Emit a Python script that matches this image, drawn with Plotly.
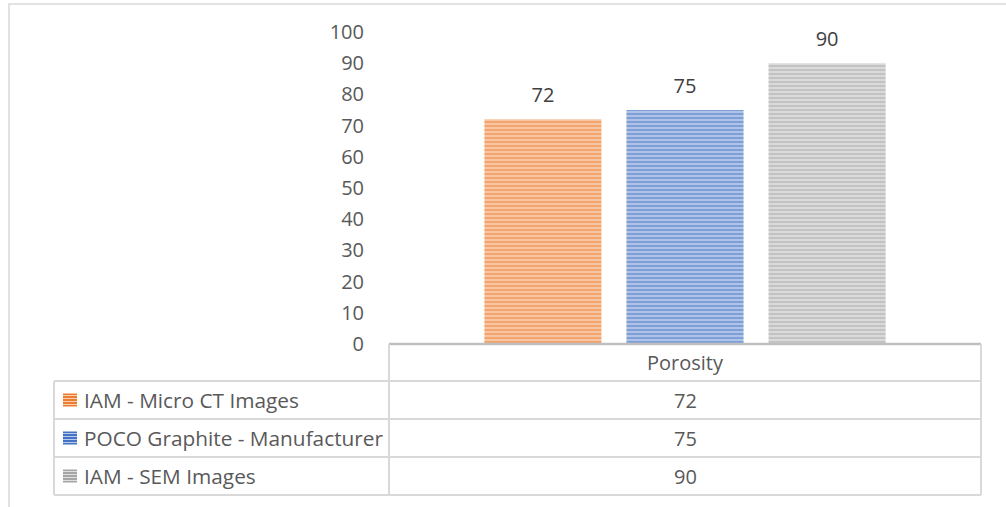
import plotly.graph_objects as go

# Porosity (%) from three sources
category = "Porosity"
series_names = ["IAM - Micro CT Images", "POCO Graphite - Manufacturer", "IAM - SEM Images"]
series_values = [72, 75, 90]
series_colors = ["#ED7D31", "#4472C4", "#A5A5A5"]
series_tints = ["#F8CDAE", "#BACCEB", "#E0E0E0"]
y_ticks = [0, 10, 20, 30, 40, 50, 60, 70, 80, 90, 100]

FONT = "Open Sans"
FS = 20
TEXT = "#595959"
GRID = "#D9D9D9"

W, H = 1006, 507
L, R, T, B = 389, 25, 32, 163
PW, PH = W - L - R, H - T - B


def px(x):
    return (x - L) / PW


def py(y):
    return (H - B - y) / PH


fig = go.Figure()
for name, val, col, tint in zip(series_names, series_values, series_colors, series_tints):
    fig.add_trace(go.Bar(
        x=[category], y=[val], name=name,
        marker=dict(color=col, line=dict(width=0),
                    pattern=dict(shape="-", size=4, solidity=0.6, fgcolor=col, bgcolor=tint)),
        showlegend=False, hoverinfo="skip",
    ))
    # value label above each bar
    fig.add_trace(go.Scatter(
        x=[category], y=[val], mode="markers+text", text=[str(val)],
        textposition="top center", textfont=dict(family=FONT, size=FS, color="#404040"),
        marker=dict(size=18, opacity=0), showlegend=False, hoverinfo="skip", cliponaxis=False,
    ))

shapes = []
annotations = []

# outer chart frame
shapes.append(dict(type="rect", xref="paper", yref="paper", x0=px(9), x1=px(1012), y0=py(512), y1=py(4),
                   line=dict(color=GRID, width=1.5), fillcolor="rgba(0,0,0,0)", layer="below"))

# data table grid
row_lines = [381, 419, 457, 495]
col_left, col_mid, col_right = 54, 389, 981
shapes.append(dict(type="line", xref="paper", yref="paper", x0=px(col_mid), x1=px(col_right),
                   y0=py(344), y1=py(344), line=dict(color="#BFBFBF", width=2.5)))
for yy in row_lines:
    shapes.append(dict(type="line", xref="paper", yref="paper", x0=px(col_left), x1=px(col_right),
                       y0=py(yy), y1=py(yy), line=dict(color=GRID, width=2)))
shapes.append(dict(type="line", xref="paper", yref="paper", x0=px(col_left), x1=px(col_left),
                   y0=py(row_lines[0]), y1=py(row_lines[-1]), line=dict(color=GRID, width=2)))
for xx in (col_mid, col_right):
    shapes.append(dict(type="line", xref="paper", yref="paper", x0=px(xx), x1=px(xx),
                       y0=py(344), y1=py(row_lines[-1]), line=dict(color=GRID, width=2)))

# header cell
annotations.append(dict(xref="paper", yref="paper", x=px((col_mid + col_right) / 2), y=py(362),
                        text=category, showarrow=False, font=dict(family=FONT, size=FS, color=TEXT),
                        xanchor="center", yanchor="middle"))

for i, (name, val, col, tint) in enumerate(zip(series_names, series_values, series_colors, series_tints)):
    top, bot = row_lines[i], row_lines[i + 1]
    mid = (top + bot) / 2
    # legend key with striped fill
    kx0, kx1, ky0, ky1 = 63, 77, mid - 6.5, mid + 6.5
    shapes.append(dict(type="rect", xref="paper", yref="paper", x0=px(kx0), x1=px(kx1),
                       y0=py(ky1), y1=py(ky0), fillcolor=col, line=dict(width=0)))
    k = ky0 + 2
    while k < ky1 - 1:
        shapes.append(dict(type="line", xref="paper", yref="paper", x0=px(kx0), x1=px(kx1),
                           y0=py(k), y1=py(k), line=dict(color=tint, width=1)))
        k += 3
    annotations.append(dict(xref="paper", yref="paper", x=px(82), y=py(mid), text=name,
                            showarrow=False, font=dict(family=FONT, size=FS + 0.8, color=TEXT),
                            xanchor="left", yanchor="middle"))
    annotations.append(dict(xref="paper", yref="paper", x=px((col_mid + col_right) / 2), y=py(mid),
                            text=str(val), showarrow=False, font=dict(family=FONT, size=FS, color=TEXT),
                            xanchor="center", yanchor="middle"))

fig.update_layout(
    width=W, height=H,
    margin=dict(l=L, r=R, t=T, b=B, pad=0),
    paper_bgcolor="white", plot_bgcolor="white",
    barmode="group", bargap=0.28, bargroupgap=0.176,
    scattermode="group", scattergap=0.28,
    font=dict(family=FONT, size=FS, color=TEXT),
    xaxis=dict(showticklabels=False, showline=False, showgrid=False, zeroline=False, ticks=""),
    yaxis=dict(range=[0, 100], tickvals=y_ticks, showgrid=False, zeroline=False, showline=False,
               ticks="", ticklabelstandoff=24, tickfont=dict(family=FONT, size=FS, color=TEXT)),
    shapes=shapes, annotations=annotations,
)

fig.write_html("out.html")
